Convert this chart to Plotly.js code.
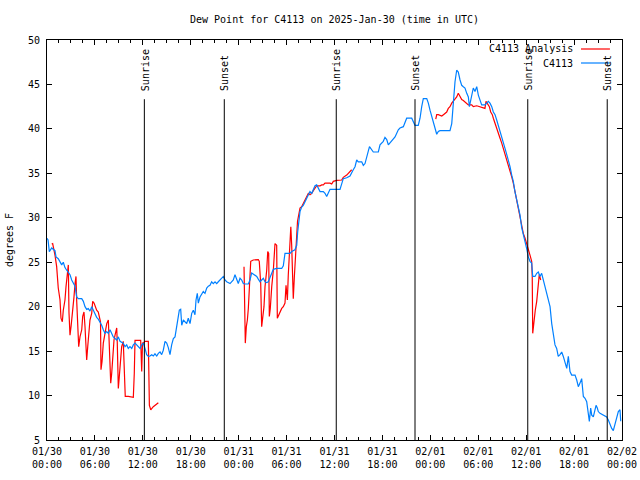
<!DOCTYPE html>
<html>
<head>
<meta charset="utf-8">
<script src="https://cdn.plot.ly/plotly-3.0.1.min.js"></script>
<style>html,body{margin:0;padding:0;background:#fff;}#chart{width:640px;height:480px;}</style>
</head>
<body>
<div id="chart"></div>
<script>
// hours since 2025-01-30 00:00 UTC
var obsHours = [0,0.13,0.29,0.59,1.0,1.13,1.41,1.63,1.84,2.04,2.25,2.47,2.67,2.88,3.09,3.29,3.51,3.72,3.92,4.35,4.55,4.76,4.97,5.17,5.38,5.6,5.8,6.01,6.22,6.42,6.64,6.85,7.05,7.26,7.48,7.68,7.89,8.3,8.73,8.93,9.14,9.55,9.77,9.98,10.18,10.39,10.61,10.81,11.02,11.23,11.43,11.65,11.86,12.06,12.27,12.48,12.69,12.9,13.11,13.31,13.52,13.74,13.94,14.15,14.36,14.56,14.78,14.99,15.19,15.4,15.61,15.82,16.03,16.24,16.44,16.57,16.74,16.87,17.07,17.28,17.49,17.69,17.91,18.12,18.32,18.53,18.66,18.82,18.95,19.16,19.37,19.57,19.78,20.0,20.2,20.41,20.62,20.82,21.04,21.25,21.45,21.66,21.88,22.08,22.29,22.5,22.92,23.13,23.33,23.54,23.75,23.95,24.17,24.38,24.58,24.79,25.21,25.42,25.63,26.04,26.26,26.46,26.67,26.88,27.09,27.3,27.51,27.71,27.92,28.14,28.34,28.76,29.39,29.59,29.8,30.43,30.64,31.05,31.27,31.39,31.52,31.68,31.89,32.09,32.31,32.52,32.72,32.93,33.15,33.35,33.56,33.77,33.97,34.19,34.6,34.81,35.02,35.22,35.44,36.69,36.9,37.1,37.53,37.94,38.35,38.57,38.78,38.98,39.41,39.61,39.82,40.03,40.23,40.38,40.86,41.49,41.7,42.11,42.32,42.54,42.74,42.95,43.36,43.58,43.99,44.2,44.62,44.83,45.04,45.67,45.87,46.08,46.49,46.71,46.92,47.12,47.55,47.75,47.96,48.17,48.37,48.59,48.8,49.0,49.21,50.46,50.68,50.88,51.09,51.3,51.5,51.72,51.93,52.13,52.34,52.56,52.76,52.89,53.18,53.38,53.59,53.81,54.01,54.22,54.43,54.84,55.06,55.26,55.47,55.69,55.89,56.1,56.31,56.51,56.73,56.94,57.14,57.35,57.57,57.77,57.98,58.19,58.39,58.6,58.82,59.02,59.23,59.44,59.64,59.86,60.07,60.27,60.48,60.69,60.82,61.11,61.32,61.52,61.73,61.94,62.15,62.36,62.57,62.77,62.99,63.2,63.4,63.61,63.82,64.02,64.24,64.45,64.65,64.86,65.08,65.28,65.49,65.7,66.12,66.33,66.53,66.74,66.95,67.16,67.37,67.58,67.78,67.91,68.08,68.21,68.41,68.62,68.75,68.91,69.03,69.25,69.66,70.08,70.29,70.5,70.71,70.91,71.13,71.34,71.54,71.75,71.84];
var obsDew = [27.7,27.5,26.2,26.6,26.3,25.6,25.4,25.1,24.7,25.0,24.4,24.1,23.9,23.6,23.0,22.6,22.3,21.1,20.9,20.9,20.6,20.0,19.7,19.8,19.5,20.0,19.6,19.25,18.8,18.6,18.3,17.9,17.4,17.0,17.2,17.0,17.4,16.6,16.25,16.6,16.1,15.9,15.5,15.7,15.3,15.5,15.3,15.7,15.9,15.7,15.5,15.3,15.7,15.9,15.3,14.6,14.4,14.45,14.6,14.45,14.7,14.45,14.75,14.9,14.6,15.1,16.1,15.9,15.4,14.6,15.7,16.4,16.6,17.75,18.6,19.6,19.7,17.9,18.5,18.3,18.1,18.7,18.1,19.25,19.6,19.1,20.75,21.5,20.4,21.1,21.5,21.7,21.5,22.1,22.3,22.4,22.8,22.6,22.8,22.6,22.8,23.0,23.2,23.4,23.0,22.8,22.6,22.8,23.0,23.6,23.0,22.6,23.2,23.0,22.6,22.55,22.55,23.0,23.8,23.6,23.4,23.1,22.8,23.0,23.2,22.8,22.7,22.8,23.2,23.75,24.2,24.3,24.3,24.6,26.0,26.0,26.2,26.4,26.9,28.4,29.6,30.7,31.2,31.4,31.8,32.2,32.6,32.95,32.75,33.1,33.6,33.7,33.3,32.95,32.95,32.75,32.4,32.75,33.2,33.2,33.9,34.4,34.5,34.7,35.4,35.75,36.5,36.3,36.3,35.9,36.1,36.9,37.4,38.0,37.4,37.4,38.2,38.6,39.05,38.8,38.2,38.4,38.9,39.1,39.9,40.1,40.25,40.8,41.2,41.2,40.8,40.4,40.4,41.2,42.5,43.4,43.4,42.9,42.1,41.4,40.8,40.1,39.4,39.7,39.8,39.8,40.6,42.9,45.3,46.6,46.4,45.5,44.9,44.75,44.6,44.0,43.6,42.5,43.6,44.6,44.2,44.75,43.8,43.25,42.7,42.7,42.9,43.1,42.9,42.5,41.9,41.6,41.0,40.4,39.9,39.3,38.6,37.8,37.1,36.5,35.75,34.8,34.1,32.9,32.0,31.25,30.3,28.9,28.2,27.5,26.5,25.6,25.1,24.9,23.4,23.4,23.75,23.9,23.4,23.75,23.0,22.25,21.5,20.9,20.0,18.1,16.8,15.7,15.3,14.4,14.6,14.9,14.4,13.6,13.05,14.4,12.7,12.3,12.3,11.75,11.0,11.4,11.9,9.9,9.7,9.3,8.2,7.1,8.6,7.8,7.6,8.4,8.9,8.6,8.2,8.0,7.8,7.6,7.25,6.7,6.3,6.05,6.7,7.4,8.2,8.4,7.1];

var anaHours = [0.59,0.71,1.0,1.21,1.41,1.63,1.75,1.92,2.04,2.25,2.38,2.54,2.67,2.75,2.88,3.01,3.13,3.26,3.38,3.51,3.63,3.72,3.84,3.97,4.13,4.35,4.47,4.63,4.76,4.88,4.97,5.1,5.26,5.38,5.6,5.72,5.89,6.01,6.22,6.42,6.55,6.7,6.76,6.89,7.05,7.26,7.48,7.68,7.8,7.98,8.1,8.23,8.39,8.52,8.73,8.8,8.93,9.05,9.23,9.35,9.55,9.68,9.8,10.18,10.61,10.81,10.93,11.02,11.73,11.86,11.96,12.06,12.27,12.69,12.82,12.99,13.31,13.74,13.94,
  19.0,
  24.67,24.76,24.83,24.96,25.09,25.21,25.34,25.51,25.83,26.46,26.58,26.76,26.88,27.01,27.17,27.3,27.51,27.64,27.76,27.84,27.96,28.14,28.34,28.55,28.76,28.84,29.01,29.18,29.39,29.59,29.8,29.93,30.1,30.21,30.43,30.53,30.64,30.77,30.84,30.97,31.09,31.24,31.37,31.68,31.89,32.09,32.31,32.52,32.72,32.93,33.15,33.35,33.56,33.77,34.19,34.4,34.6,34.81,35.44,35.65,35.85,36.27,36.9,37.1,37.53,37.74,37.94,38.15,
  43.0,
  48.68,48.8,49.0,49.43,49.64,49.84,50.05,50.25,50.46,50.68,50.88,51.09,51.3,51.5,51.72,51.93,52.13,52.34,52.56,52.76,53.18,53.38,53.81,54.22,54.64,54.84,54.97,55.14,55.39,55.56,55.76,55.89,56.1,56.31,56.51,56.73,56.94,57.14,57.35,57.57,57.77,57.98,58.19,58.39,58.6,58.82,59.02,59.23,59.44,59.64,59.86,60.07,60.27,60.48,60.69,60.76,60.82,60.89,61.01,61.14,61.32,61.44,61.57,61.64,61.82];
var anaDew = [27.05,27.1,25.8,24.5,22.1,20.75,18.7,18.3,19.6,20.75,22.25,23.9,24.7,19.4,16.8,17.75,18.7,20.0,21.1,22.6,23.4,20.6,17.4,15.5,16.6,17.4,18.9,19.4,17.75,15.3,14.0,15.5,17.0,18.5,19.25,20.6,20.4,20.0,19.6,19.4,18.9,18.3,12.9,13.8,15.9,17.0,18.1,18.5,16.25,11.4,12.5,14.4,16.25,16.8,17.6,15.9,10.8,12.1,14.4,15.5,16.1,13.6,9.9,9.9,9.8,9.8,12.5,16.2,16.2,12.7,15.9,15.9,16.1,16.1,8.9,8.4,8.75,9.1,9.2,
  null,
  24.5,20.75,15.9,17.75,18.5,19.8,22.8,25.1,25.25,25.3,25.1,22.6,17.75,18.7,20.0,22.25,24.1,26.2,26.0,18.9,19.8,22.25,24.1,27.1,26.9,18.7,19.1,19.35,19.8,20.0,20.4,22.4,20.75,23.5,27.0,29.0,26.9,23.0,20.9,23.3,25.0,26.8,29.6,31.1,31.25,31.6,32.0,32.4,32.75,32.6,32.75,33.05,33.3,33.6,33.6,33.7,33.7,33.9,33.9,33.8,34.1,34.2,34.25,34.55,34.8,35.0,35.2,35.4,
  null,
  41.1,41.6,41.6,41.45,41.6,41.75,41.9,42.3,42.5,42.9,43.1,43.4,43.6,44.0,43.6,43.3,43.2,43.0,42.9,42.7,42.7,42.5,42.6,42.5,42.4,42.3,43.1,42.9,42.5,41.9,41.6,41.2,40.6,39.9,39.3,38.95,38.4,37.8,37.4,36.5,35.9,35.4,34.6,33.9,32.9,32.0,30.9,30.1,29.0,28.25,27.7,27.1,26.6,25.8,25.1,23.4,17.0,17.75,18.5,19.6,20.6,21.5,22.4,23.6,23.0];

var sunHours = [12.19, 22.2, 36.22, 46.08, 60.2, 70.15];
var sunLabels = ['Sunrise','Sunset','Sunrise','Sunset','Sunrise','Sunset'];

var tickHours = [0,6,12,18,24,30,36,42,48,54,60,66,72];
var tickDays = ['01/30','01/30','01/30','01/30','01/31','01/31','01/31','01/31','02/01','02/01','02/01','02/01','02/02'];
var tickClock = ['00:00','06:00','12:00','18:00','00:00','06:00','12:00','18:00','00:00','06:00','12:00','18:00','00:00'];

var seriesNames = ['C4113 Analysis', 'C4113'];
var seriesColors = ['#ff0000', '#0080ff'];

var START = Date.UTC(2025, 0, 30);
function toDate(h) {
  if (h === null) return null;
  var d = new Date(START + Math.round(h * 3600000));
  return d.toISOString().slice(0, 19).replace('T', ' ');
}

var FONT = 'DejaVu Sans Mono, Liberation Mono, monospace';
var LW = 1.2;

var traces = [
  {x: anaHours.map(toDate), y: anaDew, type: 'scatter', mode: 'lines', name: seriesNames[0],
   line: {color: seriesColors[0], width: LW}, connectgaps: false, showlegend: false},
  {x: obsHours.map(toDate), y: obsDew, type: 'scatter', mode: 'lines', name: seriesNames[1],
   line: {color: seriesColors[1], width: LW}, showlegend: false}
];

var shapes = sunHours.map(function (h) {
  return {type: 'line', xref: 'x', yref: 'paper', x0: toDate(h), x1: toDate(h), y0: 0, y1: 0.852,
          line: {color: '#000000', width: 1}};
});
var annotations = sunHours.map(function (h, i) {
  return {xref: 'x', yref: 'paper', x: toDate(h), y: 0.868, text: sunLabels[i], showarrow: false,
          textangle: -90, xanchor: 'center', yanchor: 'bottom', xshift: 1,
          font: {family: FONT, size: 10, color: '#000'}};
});

// gnuplot-style key: text right-aligned, sample line to its right
var keyRows = [0.9775, 0.9425];
seriesNames.forEach(function (name, i) {
  annotations.push({xref: 'paper', yref: 'paper', x: 0.918, y: keyRows[i], text: name, showarrow: false,
                    xanchor: 'right', yanchor: 'middle', font: {family: FONT, size: 10, color: '#000'}});
  shapes.push({type: 'line', xref: 'paper', yref: 'paper', x0: 0.9287, x1: 0.979, y0: keyRows[i], y1: keyRows[i],
               line: {color: seriesColors[i], width: LW}});
});

var layout = {
  width: 640, height: 480,
  margin: {l: 47, r: 18, t: 40, b: 40},
  paper_bgcolor: '#fff', plot_bgcolor: '#fff',
  font: {family: FONT, size: 10, color: '#000'},
  title: {text: 'Dew Point for C4113 on 2025-Jan-30 (time in UTC)', x: 0.5, xref: 'paper', xanchor: 'center',
          y: 0.96, yref: 'container', yanchor: 'middle', font: {family: FONT, size: 10, color: '#000'}},
  xaxis: {type: 'date', range: [toDate(0), toDate(72)], tickmode: 'array',
          tickvals: tickHours.map(toDate),
          ticktext: tickDays.map(function (d, i) { return d + '<br>' + tickClock[i]; }),
          ticks: 'inside', ticklen: 5, tickcolor: '#000', showline: true, linecolor: '#000', linewidth: 1,
          mirror: 'allticks', showgrid: false, zeroline: false, ticklabelstandoff: 2,
          minor: {tickmode: 'linear', tick0: toDate(0), dtick: 5400000, ticks: 'inside', ticklen: 3, tickcolor: '#000', showgrid: false},
          tickfont: {family: FONT, size: 10, color: '#000'}, automargin: false, fixedrange: true},
  yaxis: {range: [5, 50], dtick: 5, tick0: 5, ticks: 'inside', ticklen: 5, tickcolor: '#000',
          showline: true, linecolor: '#000', linewidth: 1, mirror: 'allticks', showgrid: false, zeroline: false,
          ticklabelstandoff: 4, tickfont: {family: FONT, size: 10, color: '#000'},
          title: {text: 'degrees F', standoff: 12, font: {family: FONT, size: 10, color: '#000'}},
          automargin: false, fixedrange: true},
  shapes: shapes,
  annotations: annotations,
  showlegend: false
};

Plotly.newPlot('chart', traces, layout, {staticPlot: true, displayModeBar: false});
</script>
</body>
</html>
